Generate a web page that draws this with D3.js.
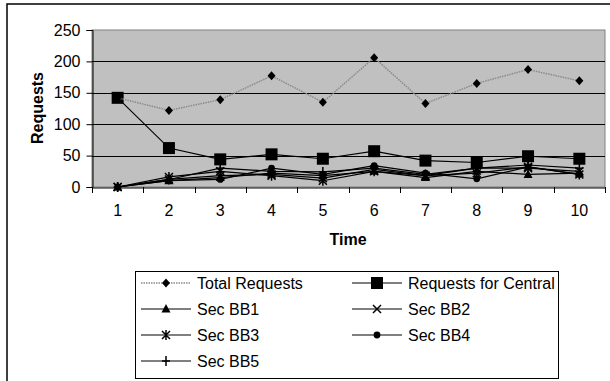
<!DOCTYPE html>
<html><head><meta charset="utf-8">
<script src="https://cdn.jsdelivr.net/npm/d3@7"></script>
<style>
html,body{margin:0;padding:0;background:#fff;}
svg{display:block;font-family:"Liberation Sans",Arial,sans-serif;}
</style></head>
<body><svg id="c" width="610" height="381"></svg>
<script>
const categories = [1,2,3,4,5,6,7,8,9,10];
const yTicks = [0,50,100,150,200,250];
const totalRequests = [142,122,139,177,135,206,133,165,187,169];
const requestsCentral = [142,62,44,52,45,57,42,39,49,45];
const secBB1 = [0,10,15,22,18,25,15,25,20,22];
const secBB2 = [0,12,18,20,14,28,18,30,30,25];
const secBB3 = [0,16,25,18,10,25,18,22,32,20];
const secBB4 = [0,10,12,30,20,34,22,13,32,20];
const secBB5 = [0,12,30,25,24,30,20,30,35,30];
const seriesNames = ["Total Requests","Requests for Central","Sec BB1","Sec BB2","Sec BB3","Sec BB4","Sec BB5"];

const series = [
  {name:seriesNames[0], values:totalRequests, marker:"diamond", dotted:true},
  {name:seriesNames[1], values:requestsCentral, marker:"square"},
  {name:seriesNames[2], values:secBB1, marker:"triangle"},
  {name:seriesNames[3], values:secBB2, marker:"x"},
  {name:seriesNames[4], values:secBB3, marker:"asterisk"},
  {name:seriesNames[5], values:secBB4, marker:"circle"},
  {name:seriesNames[6], values:secBB5, marker:"plus"}
];

const svg = d3.select("#c");
const L=92, R=605, T=30, B=187;

// outer frame
svg.append("rect").attr("x",7).attr("y",4).attr("width",700).attr("height",500)
  .attr("fill","none").attr("stroke","#000").attr("stroke-width",1.5);

const x = d3.scaleBand().domain(categories).range([L,R]);
const y = d3.scaleLinear().domain([0,250]).range([B,T]);

svg.append("rect").attr("x",L).attr("y",T).attr("width",R-L).attr("height",B-T)
  .attr("fill","#c0c0c0").attr("stroke","#808080").attr("stroke-width",1);

// gridlines
svg.append("g").selectAll("line").data(yTicks.filter(d=>d>0&&d<250)).join("line")
  .attr("x1",L).attr("x2",R).attr("y1",d=>Math.round(y(d))+0.5).attr("y2",d=>Math.round(y(d))+0.5)
  .attr("stroke","#000").attr("stroke-width",1);

// y axis
const ya = svg.append("g").attr("transform",`translate(${L+0.5},0)`)
  .call(d3.axisLeft(y).tickValues(yTicks).tickSize(6).tickPadding(6));
ya.select(".domain").attr("stroke","#000");
ya.selectAll("text").attr("font-size",16).attr("font-family","Liberation Sans, Arial, sans-serif").attr("fill","#000");

// x axis
const xa = svg.append("g").attr("transform",`translate(0,${B+0.5})`)
  .call(d3.axisBottom(x).tickSize(0).tickPadding(17));
xa.select(".domain").attr("stroke","#000");
xa.selectAll("text").attr("font-size",16).attr("font-family","Liberation Sans, Arial, sans-serif").attr("fill","#000");
// boundary ticks
svg.append("g").selectAll("line").data(d3.range(categories.length+1)).join("line")
  .attr("x1",i=>Math.round(L+i*x.step())+0.5).attr("x2",i=>Math.round(L+i*x.step())+0.5)
  .attr("y1",B).attr("y2",B+6).attr("stroke","#000");

// axis titles
svg.append("text").attr("x",348).attr("y",245).attr("text-anchor","middle")
  .attr("font-size",16).attr("font-weight","bold").text("Time");
svg.append("text").attr("transform",`translate(43,108) rotate(-90)`).attr("text-anchor","middle")
  .attr("font-size",16).attr("font-weight","bold").text("Requests");

function markerPath(type){
  switch(type){
    case "diamond": return "M0,-4.5L4,0L0,4.5L-4,0Z";
    case "square": return "M-6,-6H6V6H-6Z";
    case "triangle": return "M0,-5L4.5,3.5H-4.5Z";
    case "circle": return d3.symbol(d3.symbolCircle,36)();
    case "x": return "M-4,-4L4,4M-4,4L4,-4";
    case "asterisk": return "M-4,-4L4,4M-4,4L4,-4M0,-5V5";
    case "plus": return "M-4,0H4M0,-5V5";
  }
}
const stroked = {x:1,asterisk:1,plus:1};

function drawMarker(g, type, px, py){
  const p = g.append("path").attr("d",markerPath(type)).attr("transform",`translate(${px},${py})`);
  if(stroked[type]) p.attr("fill","none").attr("stroke","#000").attr("stroke-width",1.5);
  else p.attr("fill","#000");
}

const line = d3.line().x((d,i)=>x(categories[i])+x.bandwidth()/2).y(d=>y(d));

// draw in reverse so Total is on top appropriately
series.slice().reverse().forEach(s=>{
  const g = svg.append("g");
  g.append("path").datum(s.values).attr("d",line).attr("fill","none")
    .attr("stroke", s.dotted ? "#8a8a8a" : "#000")
    .attr("stroke-width", s.dotted ? 1.5 : 1.2)
    .attr("stroke-dasharray", s.dotted ? "1.5,1" : null);
  s.values.forEach((v,i)=>drawMarker(g, s.marker, x(categories[i])+x.bandwidth()/2, y(v)));
});

// legend
const lg = svg.append("g");
lg.append("rect").attr("x",135.5).attr("y",271.5).attr("width",423).attr("height",107)
  .attr("fill","#fff").attr("stroke","#000");
series.forEach((s,i)=>{
  const col = i%2, row = Math.floor(i/2);
  const x0 = col===0 ? 141 : 352;
  const yy = 283 + row*26;
  lg.append("line").attr("x1",x0).attr("x2",x0+50).attr("y1",yy).attr("y2",yy)
    .attr("stroke", s.dotted ? "#8a8a8a" : "#000")
    .attr("stroke-width", s.dotted ? 1.5 : 1.2)
    .attr("stroke-dasharray", s.dotted ? "1.5,1" : null);
  drawMarker(lg, s.marker, x0+25, yy);
  lg.append("text").attr("x",x0+56).attr("y",yy+6).attr("font-size",16).text(s.name);
});
</script></body></html>
